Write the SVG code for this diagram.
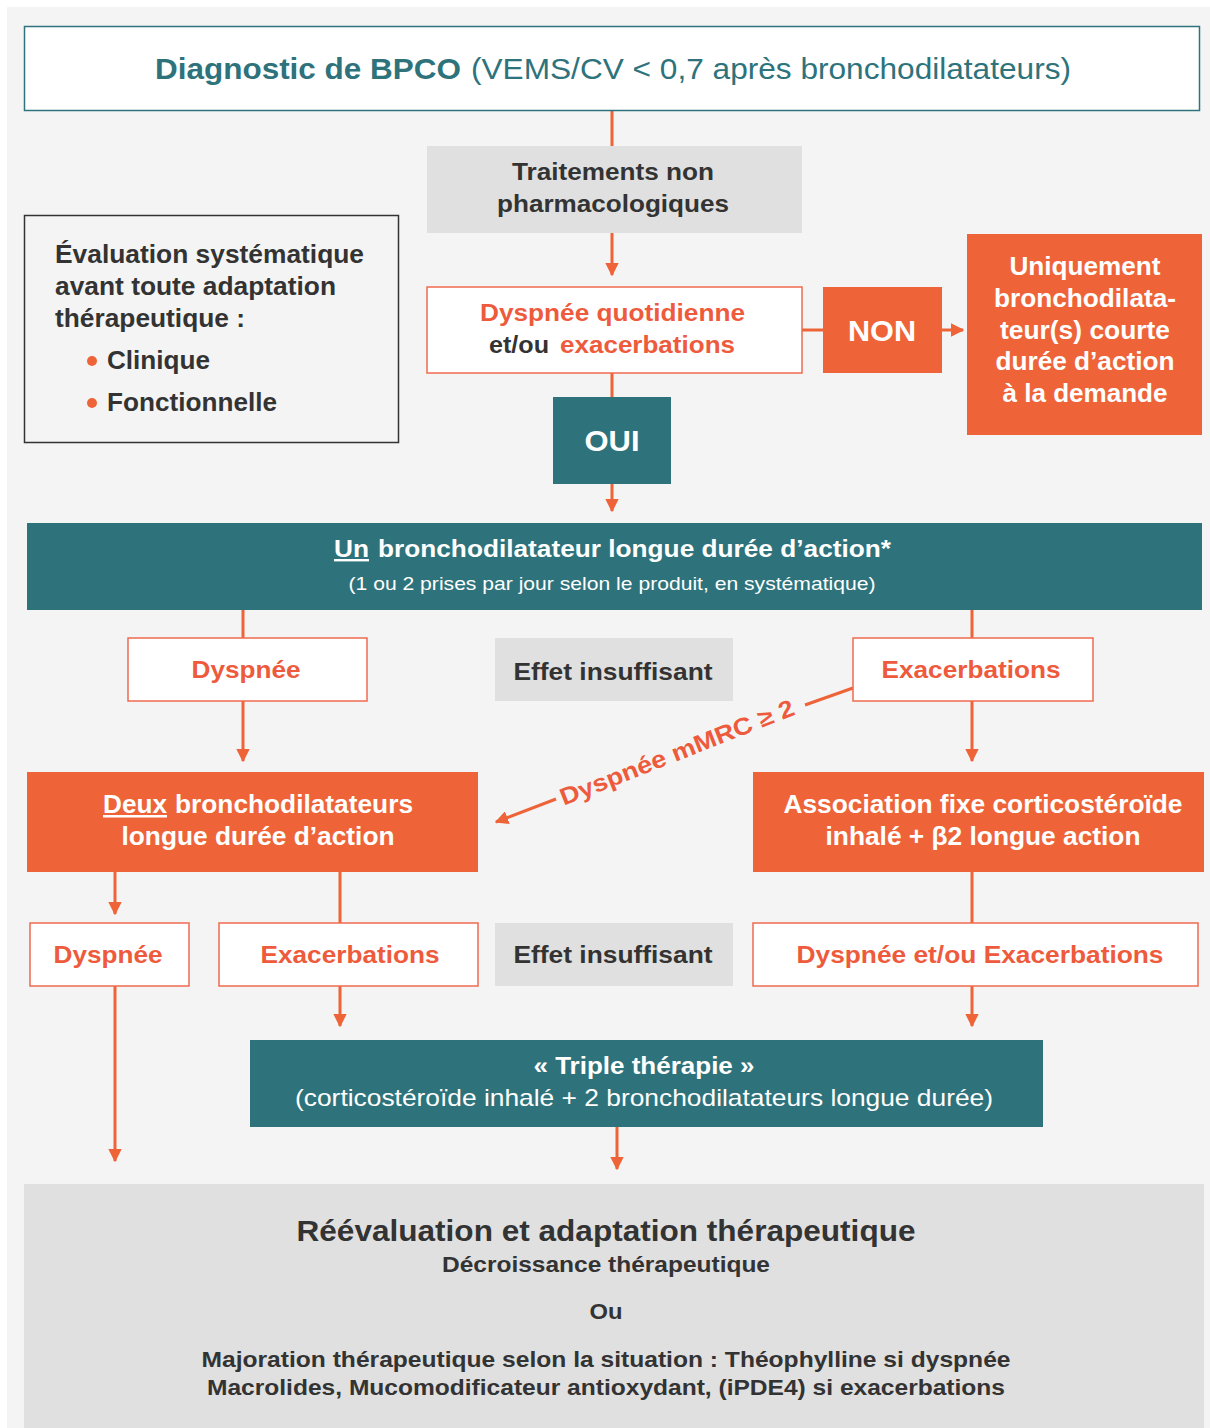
<svg xmlns="http://www.w3.org/2000/svg" width="1210" height="1428" viewBox="0 0 1210 1428">
<defs>
<style>
text{font-family:"Liberation Sans",Arial,sans-serif;}
.c{text-anchor:middle;}
.w{fill:#fff;font-weight:bold;}
.o{fill:#ee5a3c;font-weight:bold;}
.d{fill:#333;font-weight:bold;}
.wbox{fill:#fff;stroke:#ef6a4f;stroke-width:1.5;}
.gbox{fill:#e0e0e0;}
.obox{fill:#ee6438;}
.tbox{fill:#2e737b;}
.ln{stroke:#ee6438;stroke-width:3;fill:none;}
</style>
<marker id="ah" viewBox="0 0 10 10" refX="9" refY="5" markerWidth="4.5" markerHeight="4.5" orient="auto" markerUnits="strokeWidth">
<path d="M0,0 L10,5 L0,10 z" fill="#ee6438"/>
</marker>
</defs>
<rect x="0" y="0" width="1210" height="1428" fill="#fff"/>
<rect x="7" y="7" width="1203" height="1421" fill="#f4f4f4"/>

<g id="connectors">
<path class="ln" d="M612,111 V146"/>
<path class="ln" d="M612,233 V275" marker-end="url(#ah)"/>
<path class="ln" d="M802,330 H823"/>
<path class="ln" d="M942,330 H963" marker-end="url(#ah)"/>
<path class="ln" d="M612,373 V397"/>
<path class="ln" d="M612,484 V511" marker-end="url(#ah)"/>
<path class="ln" d="M243,610 V638"/>
<path class="ln" d="M972,610 V638"/>
<path class="ln" d="M243,701 V761" marker-end="url(#ah)"/>
<path class="ln" d="M972,701 V761" marker-end="url(#ah)"/>
<path class="ln" d="M853,688 L805,705"/>
<path class="ln" d="M556,799 L496,822" marker-end="url(#ah)"/>
<path class="ln" d="M115,872 V914" marker-end="url(#ah)"/>
<path class="ln" d="M340,872 V923"/>
<path class="ln" d="M972,872 V923"/>
<path class="ln" d="M115,986 V1161" marker-end="url(#ah)"/>
<path class="ln" d="M340,986 V1026" marker-end="url(#ah)"/>
<path class="ln" d="M972,986 V1026" marker-end="url(#ah)"/>
<path class="ln" d="M617,1127 V1169" marker-end="url(#ah)"/>
<text class="o c" font-size="24" transform="translate(680,760) rotate(-21.5)" textLength="250" lengthAdjust="spacingAndGlyphs">Dyspnée mMRC ≥ 2</text>
</g>

<g id="diagnostic">
<rect x="24.5" y="26.5" width="1175" height="84" fill="#fff" stroke="#2e737b" stroke-width="1.5"/>
<text x="155" y="79" font-size="30" fill="#2e737b" font-weight="bold" textLength="306" lengthAdjust="spacingAndGlyphs">Diagnostic de BPCO</text>
<text x="471" y="79" font-size="30" fill="#2e737b" textLength="600" lengthAdjust="spacingAndGlyphs">(VEMS/CV &lt; 0,7 après bronchodilatateurs)</text>
</g>

<g id="traitements">
<rect class="gbox" x="427" y="146" width="375" height="87"/>
<text class="d c" font-size="24" x="613" y="180" textLength="202" lengthAdjust="spacingAndGlyphs">Traitements non</text>
<text class="d c" font-size="24" x="613" y="212" textLength="232" lengthAdjust="spacingAndGlyphs">pharmacologiques</text>
</g>

<g id="evaluation">
<rect x="24.5" y="215.5" width="374" height="227" fill="none" stroke="#333" stroke-width="1.5"/>
<text class="d" font-size="25" x="55" y="263" textLength="309" lengthAdjust="spacingAndGlyphs">Évaluation systématique</text>
<text class="d" font-size="25" x="55" y="295" textLength="281" lengthAdjust="spacingAndGlyphs">avant toute adaptation</text>
<text class="d" font-size="25" x="55" y="327" textLength="190" lengthAdjust="spacingAndGlyphs">thérapeutique :</text>
<text class="d" font-size="25" x="107" y="369" textLength="103" lengthAdjust="spacingAndGlyphs">Clinique</text>
<text class="d" font-size="25" x="107" y="411" textLength="170" lengthAdjust="spacingAndGlyphs">Fonctionnelle</text>
<circle cx="92" cy="361" r="5" fill="#ee6438"/>
<circle cx="92" cy="403" r="5" fill="#ee6438"/>
</g>

<g id="dyspnee-quot">
<rect class="wbox" x="427" y="287" width="375" height="86"/>
<text class="o" font-size="24" x="480" y="321" textLength="265" lengthAdjust="spacingAndGlyphs">Dyspnée quotidienne</text>
<text class="d" font-size="24" x="489" y="353" textLength="60" lengthAdjust="spacingAndGlyphs">et/ou</text>
<text class="o" font-size="24" x="560" y="353" textLength="175" lengthAdjust="spacingAndGlyphs">exacerbations</text>
</g>

<g id="non">
<rect class="obox" x="823" y="287" width="119" height="86"/>
<text class="w c" font-size="30" x="882" y="341" textLength="68" lengthAdjust="spacingAndGlyphs">NON</text>
</g>

<g id="uniquement">
<rect class="obox" x="967" y="234" width="235" height="201"/>
<text class="w c" font-size="25" x="1085" y="275" textLength="151" lengthAdjust="spacingAndGlyphs">Uniquement</text>
<text class="w c" font-size="25" x="1085" y="307" textLength="182" lengthAdjust="spacingAndGlyphs">bronchodilata-</text>
<text class="w c" font-size="25" x="1085" y="339" textLength="170" lengthAdjust="spacingAndGlyphs">teur(s) courte</text>
<text class="w c" font-size="25" x="1085" y="370" textLength="179" lengthAdjust="spacingAndGlyphs">durée d’action</text>
<text class="w c" font-size="25" x="1085" y="402" textLength="165" lengthAdjust="spacingAndGlyphs">à la demande</text>
</g>

<g id="oui">
<rect class="tbox" x="553" y="397" width="118" height="87"/>
<text class="w c" font-size="30" x="612" y="451" textLength="55" lengthAdjust="spacingAndGlyphs">OUI</text>
</g>

<g id="un-bd">
<rect class="tbox" x="27" y="523" width="1175" height="87"/>
<text class="w" font-size="24" x="334" y="557" text-decoration="underline" textLength="35" lengthAdjust="spacingAndGlyphs">Un</text>
<text class="w" font-size="24" x="378" y="557" textLength="513" lengthAdjust="spacingAndGlyphs">bronchodilatateur longue durée d’action*</text>
<text class="c" font-size="19" fill="#fff" x="612" y="590" textLength="527" lengthAdjust="spacingAndGlyphs">(1 ou 2 prises par jour selon le produit, en systématique)</text>
</g>

<g id="dyspnee1">
<rect class="wbox" x="128" y="638" width="239" height="63"/>
<text class="o c" font-size="24" x="246" y="678" textLength="109" lengthAdjust="spacingAndGlyphs">Dyspnée</text>
</g>
<g id="effet1">
<rect class="gbox" x="495" y="638" width="238" height="63"/>
<text class="d c" font-size="24" x="613" y="680" textLength="199" lengthAdjust="spacingAndGlyphs">Effet insuffisant</text>
</g>
<g id="exacerbations1">
<rect class="wbox" x="853" y="638" width="240" height="63"/>
<text class="o c" font-size="24" x="971" y="678" textLength="179" lengthAdjust="spacingAndGlyphs">Exacerbations</text>
</g>

<g id="deux-bd">
<rect class="obox" x="27" y="772" width="451" height="100"/>
<text class="w" font-size="25" x="103" y="813" text-decoration="underline" textLength="64" lengthAdjust="spacingAndGlyphs">Deux</text>
<text class="w" font-size="25" x="175" y="813" textLength="238" lengthAdjust="spacingAndGlyphs">bronchodilatateurs</text>
<text class="w c" font-size="25" x="258" y="845" textLength="273" lengthAdjust="spacingAndGlyphs">longue durée d’action</text>
</g>
<g id="association">
<rect class="obox" x="753" y="772" width="451" height="100"/>
<text class="w c" font-size="25" x="983" y="813" textLength="399" lengthAdjust="spacingAndGlyphs">Association fixe corticostéroïde</text>
<text class="w c" font-size="25" x="983" y="845" textLength="315" lengthAdjust="spacingAndGlyphs">inhalé + β2 longue action</text>
</g>

<g id="dyspnee2">
<rect class="wbox" x="30" y="923" width="159" height="63"/>
<text class="o c" font-size="24" x="108" y="963" textLength="109" lengthAdjust="spacingAndGlyphs">Dyspnée</text>
</g>
<g id="exacerbations2">
<rect class="wbox" x="219" y="923" width="259" height="63"/>
<text class="o c" font-size="24" x="350" y="963" textLength="179" lengthAdjust="spacingAndGlyphs">Exacerbations</text>
</g>
<g id="effet2">
<rect class="gbox" x="495" y="923" width="238" height="63"/>
<text class="d c" font-size="24" x="613" y="963" textLength="199" lengthAdjust="spacingAndGlyphs">Effet insuffisant</text>
</g>
<g id="dyspnee-exac">
<rect class="wbox" x="753" y="923" width="445" height="63"/>
<text class="o c" font-size="24" x="980" y="963" textLength="367" lengthAdjust="spacingAndGlyphs">Dyspnée et/ou Exacerbations</text>
</g>

<g id="triple">
<rect class="tbox" x="250" y="1040" width="793" height="87"/>
<text class="w c" font-size="24" x="644" y="1074" textLength="221" lengthAdjust="spacingAndGlyphs">« Triple thérapie »</text>
<text class="c" font-size="24" fill="#fff" x="644" y="1106" textLength="698" lengthAdjust="spacingAndGlyphs">(corticostéroïde inhalé + 2 bronchodilatateurs longue durée)</text>
</g>

<g id="reevaluation">
<rect class="gbox" x="24" y="1184" width="1180" height="244"/>
<text class="d c" font-size="30" x="606" y="1241" textLength="619" lengthAdjust="spacingAndGlyphs">Réévaluation et adaptation thérapeutique</text>
<text class="d c" font-size="22" x="606" y="1272" textLength="328" lengthAdjust="spacingAndGlyphs">Décroissance thérapeutique</text>
<text class="d c" font-size="22" x="606" y="1319" textLength="33" lengthAdjust="spacingAndGlyphs">Ou</text>
<text class="d c" font-size="22" x="606" y="1367" textLength="809" lengthAdjust="spacingAndGlyphs">Majoration thérapeutique selon la situation : Théophylline si dyspnée</text>
<text class="d c" font-size="22" x="606" y="1395" textLength="798" lengthAdjust="spacingAndGlyphs">Macrolides, Mucomodificateur antioxydant, (iPDE4) si exacerbations</text>
</g>
</svg>
